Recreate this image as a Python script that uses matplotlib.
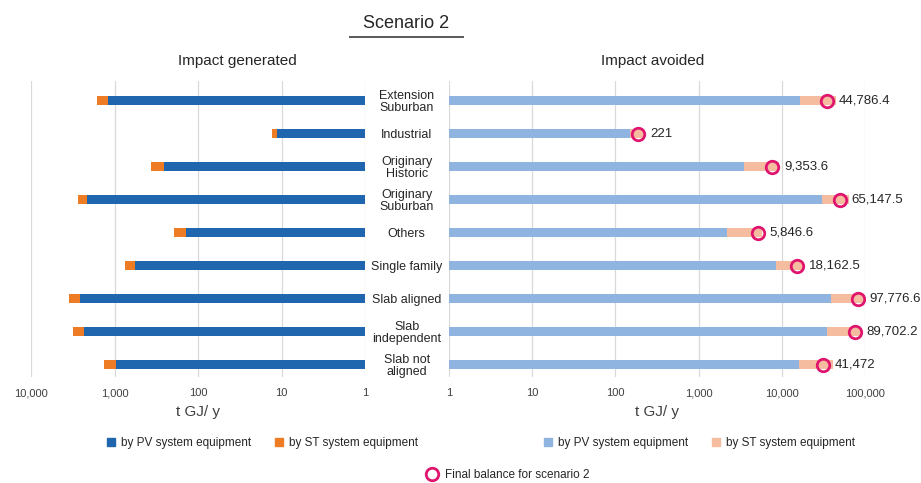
"""Scenario 2: impact generated vs. impact avoided per building typology."""

from __future__ import annotations

import matplotlib

matplotlib.use("Agg")
import matplotlib.pyplot as plt
from matplotlib.lines import Line2D
from matplotlib.patches import Patch
from matplotlib.ticker import FixedLocator, NullLocator

plt.rcParams["font.family"] = ["Liberation Sans", "DejaVu Sans"]

CATEGORIES = [
    "Extension\nSuburban",
    "Industrial",
    "Originary\nHistoric",
    "Originary\nSuburban",
    "Others",
    "Single family",
    "Slab aligned",
    "Slab\nindependent",
    "Slab not\naligned",
]
# impact generated (t GJ/y)
GENERATED_PV = [1183, 11.4, 257, 2113, 140, 561, 2612, 2340, 968]
GENERATED_ST = [420, 1.5, 108, 600, 54, 194, 900, 810, 380]
# impact avoided (t GJ/y)
AVOIDED_PV = [16560, 150, 3510, 30400, 2210, 8510, 39000, 34700, 16230]
AVOIDED_ST = [28200, 71, 5840, 34700, 3640, 9650, 58800, 55000, 25200]
# final balance marker and its label
BALANCE = [35200, 188, 7690, 49700, 5130, 15200, 82000, 75900, 31000]
BALANCE_LABELS = [
    "44,786.4", "221", "9,353.6", "65,147.5", "5,846.6",
    "18,162.5", "97,776.6", "89,702.2", "41,472",
]
TICKS_LEFT = [10000, 1000, 100, 10, 1]
TICKS_RIGHT = [1, 10, 100, 1000, 10000, 100000]

DARK_BLUE = "#1F66AF"
ORANGE = "#EE7C24"
LIGHT_BLUE = "#8FB4DF"
PEACH = "#F5BC9F"
RING = "#E0156E"
GRID = "#D9D9D9"
TEXT = "#262626"
TICK_TEXT = "#404040"
BAR_HEIGHT = 0.28


def fmt(value: float) -> str:
    return f"{value:,.0f}"


def style_axis(axis, ticks) -> None:
    axis.set_xscale("log")
    axis.xaxis.set_major_locator(FixedLocator(ticks))
    axis.xaxis.set_minor_locator(NullLocator())
    axis.set_xticklabels([fmt(t) for t in ticks])
    axis.tick_params(axis="x", length=0, pad=8, labelsize=8, labelcolor=TICK_TEXT)
    axis.grid(axis="x", color=GRID, linewidth=0.9)
    axis.set_axisbelow(True)
    for spine in axis.spines.values():
        spine.set_visible(False)
    axis.set_ylim(8.37, -0.6)
    axis.set_xlabel("t GJ/ y", fontsize=11, color=TICK_TEXT, labelpad=5)


def main() -> None:
    fig = plt.figure(figsize=(9.21, 4.83), dpi=100)
    ax_left = fig.add_axes([0.0337, 0.2195, 0.3626, 0.6128])
    ax_right = fig.add_axes([0.4875, 0.2195, 0.4517, 0.6128])
    ypos = list(range(len(CATEGORIES)))

    # impact generated (mirrored, log axis pointing left)
    ax_left.barh(ypos, [v - 1 for v in GENERATED_PV], left=1, height=BAR_HEIGHT,
                 color=DARK_BLUE)
    ax_left.barh(ypos, GENERATED_ST, left=GENERATED_PV, height=BAR_HEIGHT,
                 color=ORANGE)
    style_axis(ax_left, TICKS_LEFT)
    ax_left.set_xlim(10000, 1)
    ax_left.set_yticks(ypos)
    ax_left.set_yticklabels(CATEGORIES, fontsize=9, color=TEXT, linespacing=0.95)
    ax_left.tick_params(axis="y", length=0, pad=30, labelleft=False, labelright=True)
    for label in ax_left.get_yticklabels():
        label.set_horizontalalignment("center")
        label.set_multialignment("center")

    # impact avoided
    ax_right.barh(ypos, [v - 1 for v in AVOIDED_PV], left=1, height=BAR_HEIGHT,
                  color=LIGHT_BLUE)
    ax_right.barh(ypos, AVOIDED_ST, left=AVOIDED_PV, height=BAR_HEIGHT,
                  color=PEACH)
    ax_right.plot(BALANCE, ypos, linestyle="none", marker="o", markersize=9,
                  markerfacecolor="none", markeredgecolor=RING,
                  markeredgewidth=2.0, zorder=4)
    for value, y, text in zip(BALANCE, ypos, BALANCE_LABELS):
        ax_right.annotate(text, (value, y), xytext=(8.5, 0),
                          textcoords="offset points", va="center", ha="left",
                          fontsize=9.5, color=TEXT, annotation_clip=False)
    style_axis(ax_right, TICKS_RIGHT)
    ax_right.set_xlim(1, 100000)
    ax_right.set_yticks([])

    # titles
    fig.text(406 / 921, 1 - 23 / 483, "Scenario 2", fontsize=13, color=TEXT,
             ha="center", va="center")
    fig.add_artist(Line2D([350 / 921, 463 / 921], [1 - 37 / 483] * 2,
                          color="#595959", linewidth=1.4))
    fig.text(237 / 921, 1 - 61.5 / 483, "Impact generated", fontsize=11,
             color=TEXT, ha="center", va="center")
    fig.text(653 / 921, 1 - 61.5 / 483, "Impact avoided", fontsize=11,
             color=TEXT, ha="center", va="center")

    # legends
    legend_kw = dict(loc="center left", ncol=2, frameon=False, fontsize=8.5,
                     handlelength=0.7, handleheight=0.7, handletextpad=0.5,
                     columnspacing=2.0, borderpad=0, borderaxespad=0,
                     labelcolor=TEXT)
    fig.legend(
        handles=[Patch(color=DARK_BLUE, label="by PV system equipment"),
                 Patch(color=ORANGE, label="by ST system equipment")],
        bbox_to_anchor=(107 / 921, 1 - 443 / 483), **legend_kw)
    fig.legend(
        handles=[Patch(color=LIGHT_BLUE, label="by PV system equipment"),
                 Patch(color=PEACH, label="by ST system equipment")],
        bbox_to_anchor=(544 / 921, 1 - 443 / 483), **legend_kw)
    fig.legend(
        handles=[Line2D([], [], linestyle="none", marker="o", markersize=9,
                        markerfacecolor="none", markeredgecolor=RING,
                        markeredgewidth=2.0, label="Final balance for scenario 2")],
        loc="center left", frameon=False, fontsize=8.5, handlelength=1.0,
        handletextpad=0.6, borderpad=0, borderaxespad=0, labelcolor=TEXT,
        bbox_to_anchor=(426 / 921, 1 - 475 / 483))

    fig.savefig("out.png", dpi=100)
    plt.close(fig)


if __name__ == "__main__":
    main()
